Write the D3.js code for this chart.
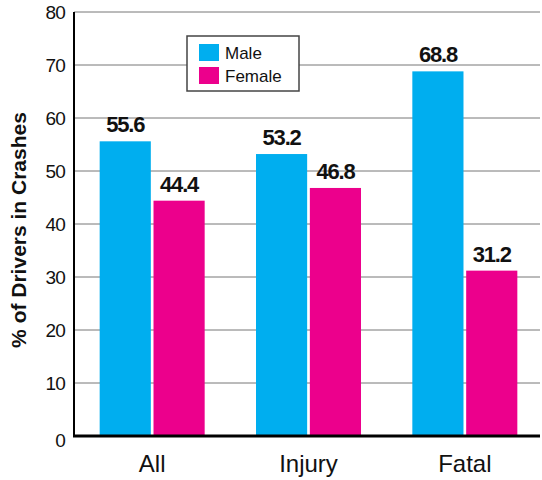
<!DOCTYPE html>
<html>
<head>
<meta charset="UTF-8" />
<script src="https://d3js.org/d3.v7.min.js"></script>
<style>
  body { margin: 0; background: #fff; }
  text { font-family: "Liberation Sans", Arial, sans-serif; }
</style>
</head>
<body>
<div id="chart"></div>
<script>
// data
const categories = ["All", "Injury", "Fatal"];
const seriesNames = ["Male", "Female"];
const maleValues = [55.6, 53.2, 68.8];
const femaleValues = [44.4, 46.8, 31.2];
const yTicks = [0, 10, 20, 30, 40, 50, 60, 70, 80];

const colors = { Male: "#00aeef", Female: "#ec008c" };

const width = 542, height = 480;
const margin = { left: 74, right: 0, top: 12, bottom: 44 };

const svg = d3.select("#chart").append("svg")
  .attr("width", width)
  .attr("height", height);

const x = d3.scaleBand()
  .domain(categories)
  .range([margin.left, 543])
  .padding(0);

const xSub = d3.scaleBand()
  .domain(seriesNames)
  .range([-52.5, 52.5])
  .paddingInner(0.05);

const y = d3.scaleLinear()
  .domain([0, 80])
  .range([height - margin.bottom, margin.top]);

// gridlines
svg.append("g")
  .selectAll("line")
  .data(yTicks.filter(d => d > 0))
  .enter().append("line")
  .attr("x1", margin.left)
  .attr("x2", 540)
  .attr("y1", d => y(d))
  .attr("y2", d => y(d))
  .attr("stroke", "#777")
  .attr("stroke-width", 1);

// tick labels
svg.append("g")
  .selectAll("text")
  .data(yTicks)
  .enter().append("text")
  .attr("x", 65)
  .attr("y", d => y(d) + (d === 0 ? 11 : 7))
  .attr("text-anchor", "end")
  .attr("font-size", 19)
  .attr("letter-spacing", -0.8)
  .attr("fill", "#111")
  .text(d => d);

// bars
const rows = categories.map((c, i) => ({ cat: c, Male: maleValues[i], Female: femaleValues[i] }));

const groups = svg.append("g")
  .selectAll("g")
  .data(rows)
  .enter().append("g")
  .attr("transform", d => `translate(${x(d.cat) + x.bandwidth() / 2},0)`);

groups.selectAll("rect")
  .data(d => seriesNames.map(s => ({ s, v: d[s] })))
  .enter().append("rect")
  .attr("x", d => xSub(d.s))
  .attr("width", xSub.bandwidth())
  .attr("y", d => y(d.v))
  .attr("height", d => y(0) - y(d.v))
  .attr("fill", d => colors[d.s]);

groups.selectAll("text.val")
  .data(d => seriesNames.map(s => ({ s, v: d[s] })))
  .enter().append("text")
  .attr("class", "val")
  .attr("x", d => xSub(d.s) + xSub.bandwidth() / 2)
  .attr("y", d => y(d.v) - 9)
  .attr("text-anchor", "middle")
  .attr("font-size", 22)
  .attr("font-weight", "bold")
  .attr("letter-spacing", -1.2)
  .attr("fill", "#111")
  .text(d => d.v.toFixed(1));

// axes lines
svg.append("line")
  .attr("x1", margin.left).attr("x2", margin.left)
  .attr("y1", margin.top).attr("y2", y(0))
  .attr("stroke", "#000").attr("stroke-width", 2);

svg.append("line")
  .attr("x1", margin.left - 1).attr("x2", 540)
  .attr("y1", y(0)).attr("y2", y(0))
  .attr("stroke", "#000").attr("stroke-width", 3);

// category labels
svg.append("g")
  .selectAll("text")
  .data(categories)
  .enter().append("text")
  .attr("x", d => x(d) + x.bandwidth() / 2)
  .attr("y", 472)
  .attr("text-anchor", "middle")
  .attr("font-size", 24)
  .attr("fill", "#111")
  .text(d => d);

// y axis title
svg.append("text")
  .attr("transform", `translate(26,${(margin.top + y(0)) / 2 + 6}) rotate(-90)`)
  .attr("text-anchor", "middle")
  .attr("font-size", 21)
  .attr("font-weight", "bold")
  .attr("fill", "#111")
  .text("% of Drivers in Crashes");

// legend
const legend = svg.append("g").attr("transform", "translate(187,36)");
legend.append("rect")
  .attr("width", 112).attr("height", 55)
  .attr("fill", "#fff")
  .attr("stroke", "#444").attr("stroke-width", 1.5);

seriesNames.forEach((s, i) => {
  legend.append("rect")
    .attr("x", 12).attr("y", 8 + i * 23)
    .attr("width", 20).attr("height", 17)
    .attr("fill", colors[s]);
  legend.append("text")
    .attr("x", 38).attr("y", 23 + i * 23)
    .attr("font-size", 17)
    .attr("fill", "#111")
    .text(s);
});
</script>
</body>
</html>
